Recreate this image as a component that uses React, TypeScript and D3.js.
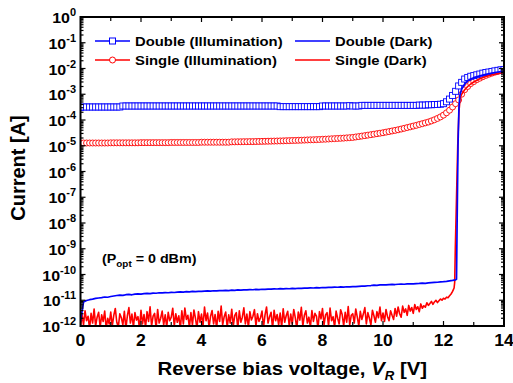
import React, { useEffect, useRef } from "react";
import * as d3 from "d3";

// sweep steps of the measurement, V
const ILLUM_STEP = 0.1;
const DARK_DOUBLE_STEP = 0.1;
const DARK_SINGLE_STEP = 0.05;

// Double (Illumination), 0 .. 14 V every 0.1 V, A
const doubleIllum = [
  3.1e-4, 3.2e-4, 3.2e-4, 3.2e-4, 3.2e-4, 3.2e-4, 3.2e-4, 3.2e-4, 3.2e-4, 3.2e-4,
  3.2e-4, 3.2e-4, 3.2e-4, 3.2e-4, 3.5e-4, 3.5e-4, 3.5e-4, 3.5e-4, 3.5e-4, 3.5e-4,
  3.5e-4, 3.5e-4, 3.5e-4, 3.5e-4, 3.5e-4, 3.5e-4, 3.5e-4, 3.5e-4, 3.5e-4, 3.5e-4,
  3.5e-4, 3.5e-4, 3.5e-4, 3.5e-4, 3.5e-4, 3.5e-4, 3.5e-4, 3.5e-4, 3.5e-4, 3.5e-4,
  3.5e-4, 3.5e-4, 3.5e-4, 3.5e-4, 3.5e-4, 3.5e-4, 3.5e-4, 3.5e-4, 3.5e-4, 3.5e-4,
  3.5e-4, 3.5e-4, 3.5e-4, 3.5e-4, 3.5e-4, 3.5e-4, 3.5e-4, 3.5e-4, 3.5e-4, 3.5e-4,
  3.5e-4, 3.5e-4, 3.5e-4, 3.5e-4, 3.5e-4, 3.5e-4, 3.3e-4, 3.3e-4, 3.3e-4, 3.3e-4,
  3.3e-4, 3.3e-4, 3.3e-4, 3.3e-4, 3.3e-4, 3.3e-4, 3.3e-4, 3.3e-4, 3.3e-4, 3.3e-4,
  3.5e-4, 3.5e-4, 3.5e-4, 3.5e-4, 3.5e-4, 3.5e-4, 3.5e-4, 3.5e-4, 3.5e-4, 3.6e-4,
  3.5e-4, 3.5e-4, 3.5e-4, 3.7e-4, 3.7e-4, 3.7e-4, 3.7e-4, 3.7e-4, 3.7e-4, 3.7e-4,
  3.7e-4, 3.7e-4, 3.7e-4, 3.7e-4, 3.7e-4, 3.7e-4, 3.7e-4, 3.7e-4, 3.7e-4, 3.7e-4,
  3.7e-4, 3.7e-4, 3.8e-4, 3.8e-4, 3.8e-4, 3.9e-4, 3.9e-4, 4.0e-4, 4.0e-4, 4.1e-4,
  4.3e-4, 5.1e-4, 6.5e-4, 9.0e-4, 1.3e-3, 2.1e-3, 2.9e-3, 3.9e-3, 4.5e-3, 5.0e-3,
  5.3e-3, 5.7e-3, 6.1e-3, 6.6e-3, 7.0e-3, 7.3e-3, 7.7e-3, 8.1e-3, 8.5e-3, 8.9e-3,
  9.2e-3,
];

// Single (Illumination), 0 .. 14 V every 0.1 V, A
const singleIllum = [
  1.28e-5, 1.28e-5, 1.28e-5, 1.28e-5, 1.28e-5, 1.28e-5, 1.28e-5, 1.28e-5, 1.28e-5, 1.28e-5,
  1.3e-5, 1.3e-5, 1.3e-5, 1.3e-5, 1.3e-5, 1.3e-5, 1.3e-5, 1.3e-5, 1.3e-5, 1.3e-5,
  1.32e-5, 1.32e-5, 1.32e-5, 1.32e-5, 1.32e-5, 1.32e-5, 1.32e-5, 1.32e-5, 1.32e-5, 1.32e-5,
  1.34e-5, 1.34e-5, 1.34e-5, 1.34e-5, 1.34e-5, 1.34e-5, 1.34e-5, 1.34e-5, 1.34e-5, 1.34e-5,
  1.37e-5, 1.37e-5, 1.37e-5, 1.37e-5, 1.37e-5, 1.37e-5, 1.37e-5, 1.37e-5, 1.37e-5, 1.37e-5,
  1.42e-5, 1.42e-5, 1.43e-5, 1.43e-5, 1.44e-5, 1.44e-5, 1.45e-5, 1.45e-5, 1.46e-5, 1.47e-5,
  1.48e-5, 1.49e-5, 1.5e-5, 1.51e-5, 1.52e-5, 1.53e-5, 1.54e-5, 1.55e-5, 1.57e-5, 1.58e-5,
  1.6e-5, 1.61e-5, 1.63e-5, 1.64e-5, 1.66e-5, 1.68e-5, 1.7e-5, 1.71e-5, 1.73e-5, 1.75e-5,
  1.78e-5, 1.8e-5, 1.83e-5, 1.86e-5, 1.89e-5, 1.92e-5, 1.95e-5, 1.98e-5, 2.02e-5, 2.06e-5,
  2.1e-5, 2.19e-5, 2.28e-5, 2.37e-5, 2.47e-5, 2.58e-5, 2.69e-5, 2.81e-5, 2.94e-5, 3.07e-5,
  3.2e-5, 3.38e-5, 3.56e-5, 3.75e-5, 3.95e-5, 4.18e-5, 4.45e-5, 4.75e-5, 5.08e-5, 5.42e-5,
  5.8e-5, 6.2e-5, 6.7e-5, 7.2e-5, 7.75e-5, 8.35e-5, 9.2e-5, 1.02e-4, 1.15e-4, 1.32e-4,
  1.55e-4, 1.9e-4, 2.4e-4, 3.2e-4, 4.3e-4, 6.0e-4, 1.0e-3, 1.5e-3, 2.0e-3, 2.6e-3,
  3.1e-3, 3.7e-3, 4.2e-3, 4.8e-3, 5.4e-3, 6.0e-3, 6.6e-3, 7.2e-3, 7.7e-3, 8.2e-3,
  8.7e-3,
];

// Double (Dark), 0 .. 12.4 V every 0.1 V, pA
const doubleDarkPA = [
  1.5, 8.5, 9.8, 10.5, 11.0, 11.8, 12.2, 12.6, 13.4, 13.1,
  14.0, 14.6, 15.3, 15.9, 15.4, 16.4, 16.8, 16.3, 17.2, 17.6,
  17.4, 18.0, 18.6, 18.1, 19.0, 18.7, 19.5, 19.2, 19.9, 19.6,
  20.3, 20.0, 20.7, 21.2, 20.8, 21.5, 21.1, 22.0, 21.6, 22.3,
  22.0, 22.6, 23.1, 22.5, 23.4, 23.0, 23.8, 23.5, 24.2, 23.8,
  24.6, 24.3, 25.1, 24.7, 25.5, 25.2, 26.0, 25.6, 26.3, 26.0,
  26.8, 26.4, 27.2, 26.9, 27.6, 27.3, 28.1, 27.7, 28.4, 28.0,
  28.9, 28.5, 29.3, 29.0, 29.8, 29.4, 30.3, 29.9, 30.8, 30.4,
  31.2, 30.9, 31.8, 31.4, 32.3, 32.0, 32.9, 32.5, 33.5, 33.1,
  34.1, 33.8, 34.8, 35.6, 35.2, 36.5, 37.3, 38.6, 38.0, 39.4,
  40.0, 39.6, 40.7, 41.2, 40.8, 41.9, 42.4, 41.9, 43.0, 43.5,
  43.1, 44.4, 45.0, 46.0, 45.5, 47.1, 48.0, 49.2, 50.1, 51.5,
  52.8, 54.5, 56.6, 58.9, 62.0,
];
// Double (Dark) breakdown and above, [V, A]
const doubleDarkTail: [number, number][] = [
  [12.43, 6.5e-11], [12.45, 1e-8], [12.48, 1e-5], [12.51, 3e-4], [12.54, 9e-4],
  [12.6, 1.6e-3], [12.7, 2.5e-3], [12.8, 3.3e-3], [12.9, 3.9e-3], [13.0, 4.4e-3],
  [13.2, 5.2e-3], [13.4, 5.9e-3], [13.6, 6.6e-3], [13.8, 7.3e-3], [14.0, 8.0e-3],
];

// Single (Dark), 0 .. 12.35 V every 0.05 V, pA
const singleDarkPA = [
  0.9, 2.8, 1.1, 3.9, 1.6, 2.4, 0.8, 3.1, 1.3, 4.6, 1.0, 2.2, 3.4, 0.9, 2.7, 1.5, 3.8, 0.8, 2.0, 1.2,
  3.5, 1.0, 2.6, 4.8, 1.4, 0.9, 3.0, 2.1, 1.1, 3.7, 0.8, 2.5, 5.2, 1.3, 2.9, 0.9, 3.3, 1.7, 2.3, 0.8,
  4.1, 1.2, 2.8, 0.9, 3.6, 1.5, 5.6, 1.0, 2.4, 3.1, 0.8, 4.4, 1.3, 2.0, 3.8, 1.1, 2.7, 0.9, 3.4, 1.6,
  2.2, 4.9, 1.0, 3.0, 1.4, 2.5, 0.8, 3.9, 1.2, 5.0, 1.8, 2.6, 0.9, 3.3, 1.1, 4.2, 2.0, 0.8, 3.6, 1.4,
  2.9, 1.0, 5.4, 1.6, 3.2, 0.9, 2.4, 4.0, 1.2, 2.8, 0.8, 3.7, 1.5, 6.0, 1.1, 2.3, 3.5, 0.9, 2.7, 1.3,
  4.5, 1.0, 2.6, 3.3, 0.8, 3.9, 1.4, 2.2, 5.1, 1.2, 2.9, 0.9, 3.6, 1.7, 2.4, 4.3, 1.0, 3.0, 1.5, 2.1,
  3.8, 0.9, 2.7, 5.5, 1.3, 2.3, 3.4, 0.8, 4.1, 1.6, 2.8, 1.1, 3.2, 0.9, 4.7, 1.4, 2.5, 3.7, 1.0, 2.9,
  1.2, 4.4, 2.1, 0.8, 3.5, 1.7, 5.3, 1.0, 2.6, 3.9, 1.3, 2.2, 0.9, 4.0, 1.5, 3.1, 2.4, 0.8, 3.6, 1.9,
  4.8, 1.1, 2.7, 3.3, 1.0, 5.0, 1.6, 2.3, 0.9, 3.8, 2.0, 1.2, 4.3, 2.8, 1.0, 3.4, 1.4, 5.7, 1.1, 2.6,
  3.0, 1.3, 4.6, 2.2, 1.0, 3.7, 1.8, 2.9, 5.2, 1.2, 3.3, 2.0, 1.1, 4.1, 2.5, 1.4, 3.6, 2.1, 5.4, 1.6,
  3.2, 1.5, 4.4, 2.3, 1.6, 3.9, 2.6, 1.8,
  4.8, 2.4, 5.5, 3.0, 2.2, 5.9, 3.4, 4.6, 2.6, 6.3, 3.8, 5.2, 3.1, 6.8, 4.4, 5.6, 3.6, 7.2, 4.9, 6.1,
  5.4, 8.0, 6.3, 7.5, 9.0, 6.9, 8.6, 10.0, 8.1, 9.6, 11.2, 10.0, 12.0, 11.1, 13.2, 12.6, 15.0, 17.5, 22.0, 30.0,
];
// Single (Dark) breakdown and above, [V, A]
const singleDarkTail: [number, number][] = [
  [12.37, 5e-11], [12.39, 1e-9], [12.43, 1e-7], [12.47, 1e-5], [12.51, 2e-4], [12.55, 7e-4],
  [12.6, 1.0e-3], [12.7, 1.5e-3], [12.8, 2.0e-3], [12.9, 2.5e-3], [13.0, 3.0e-3],
  [13.2, 4.0e-3], [13.4, 4.9e-3], [13.6, 5.7e-3], [13.8, 6.4e-3], [14.0, 7.0e-3],
];

const xTickLabels = [0, 2, 4, 6, 8, 10, 12, 14];
const yExponents = [0, -1, -2, -3, -4, -5, -6, -7, -8, -9, -10, -11, -12];

const BLUE = "#0000ff";
const RED = "#ff0000";
const FONT = "Arial, 'Liberation Sans', sans-serif";
const SX = 1.1; // the figure's text is a little wide

const App = () => {
  const width = 513;
  const height = 383;
  const marginLeft = 80.5;
  const marginRight = 9;
  const marginTop = 17;
  const marginBottom = 57;
  const svgRef = useRef<SVGSVGElement>(null);

  useEffect(() => {
    document.body.style.margin = "0";
    if (!svgRef.current) return;
    const svg = d3.select(svgRef.current);
    svg.selectAll("*").remove();

    const x = d3.scaleLinear().domain([0, 14]).range([marginLeft, width - marginRight]);
    const y = d3.scaleLog().domain([1e-12, 1]).range([height - marginBottom, marginTop]);

    const illum = (vals: number[]) => vals.map((v, i) => [i * ILLUM_STEP, v] as [number, number]);
    const dD = doubleDarkPA
      .map((v, i) => [i * DARK_DOUBLE_STEP, v * 1e-12] as [number, number])
      .concat(doubleDarkTail);
    const sD = singleDarkPA
      .map((v, i) => [i * DARK_SINGLE_STEP, v * 1e-12] as [number, number])
      .concat(singleDarkTail);

    svg
      .append("defs")
      .append("clipPath")
      .attr("id", "plot-clip")
      .append("rect")
      .attr("x", marginLeft)
      .attr("y", marginTop)
      .attr("width", width - marginLeft - marginRight)
      .attr("height", height - marginTop - marginBottom);

    const plot = svg.append("g").attr("clip-path", "url(#plot-clip)");

    // Single (Illumination) circles
    plot
      .append("g")
      .selectAll("circle")
      .data(illum(singleIllum))
      .join("circle")
      .attr("cx", (d) => x(d[0]))
      .attr("cy", (d) => y(d[1]))
      .attr("r", 3)
      .attr("fill", "white")
      .attr("stroke", RED)
      .attr("stroke-width", 0.9);

    // Double (Illumination) squares
    plot
      .append("g")
      .selectAll("rect")
      .data(illum(doubleIllum))
      .join("rect")
      .attr("x", (d) => x(d[0]) - 3)
      .attr("y", (d) => y(d[1]) - 3)
      .attr("width", 6)
      .attr("height", 6)
      .attr("fill", "white")
      .attr("stroke", BLUE)
      .attr("stroke-width", 0.9);

    const line = d3
      .line<[number, number]>()
      .x((d) => x(d[0]))
      .y((d) => y(Math.max(d[1], 1e-13)));

    plot
      .append("path")
      .datum(sD)
      .attr("fill", "none")
      .attr("stroke", RED)
      .attr("stroke-width", 1.6)
      .attr("stroke-linejoin", "round")
      .attr("d", line);

    plot
      .append("path")
      .datum(dD)
      .attr("fill", "none")
      .attr("stroke", BLUE)
      .attr("stroke-width", 1.7)
      .attr("stroke-linejoin", "round")
      .attr("d", line);

    // Ticks
    const ax = svg.append("g").attr("stroke", "black").attr("stroke-width", 1.2);
    const x0 = marginLeft;
    const x1 = width - marginRight;
    const y0 = height - marginBottom;
    const y1 = marginTop;
    for (let e = -12; e <= 0; e++) {
      const yy = y(10 ** e);
      ax.append("line").attr("x1", x0).attr("x2", x0 + 5).attr("y1", yy).attr("y2", yy);
      ax.append("line").attr("x1", x1).attr("x2", x1 - 5).attr("y1", yy).attr("y2", yy);
      if (e < 0) {
        for (let m = 2; m <= 9; m++) {
          const ym = y(m * 10 ** e);
          ax.append("line").attr("x1", x0).attr("x2", x0 + 3).attr("y1", ym).attr("y2", ym);
          ax.append("line").attr("x1", x1).attr("x2", x1 - 3).attr("y1", ym).attr("y2", ym);
        }
      }
    }
    for (let v = 1; v < 14; v++) {
      const xx = x(v);
      const len = v % 2 === 0 ? 5 : 4;
      ax.append("line").attr("x1", xx).attr("x2", xx).attr("y1", y0).attr("y2", y0 - len);
      ax.append("line").attr("x1", xx).attr("x2", xx).attr("y1", y1).attr("y2", y1 + len);
    }

    // Frame
    svg
      .append("rect")
      .attr("x", x0)
      .attr("y", y1)
      .attr("width", x1 - x0)
      .attr("height", y0 - y1)
      .attr("fill", "none")
      .attr("stroke", "black")
      .attr("stroke-width", 2);

    const label = (px: number, py: number, anchor: string, size: number) =>
      svg
        .append("text")
        .attr("transform", `translate(${px},${py}) scale(${SX},1)`)
        .attr("text-anchor", anchor)
        .attr("font-family", FONT)
        .attr("font-weight", "bold")
        .attr("font-size", size)
        .attr("fill", "black");

    // x tick labels
    xTickLabels.forEach((v) => {
      label(x(v), y0 + 20, "middle", 16).text(String(v));
    });

    // y tick labels
    yExponents.forEach((e) => {
      const t = label(76, y(10 ** e) + 6, "end", 14.5);
      t.append("tspan").text("10");
      t.append("tspan").attr("dy", -7).attr("font-size", 10).text(String(e));
    });

    // axis titles
    const xt = label((x0 + x1) / 2, 375, "middle", 18.5);
    xt.append("tspan").text("Reverse bias voltage, ");
    xt.append("tspan").attr("font-style", "italic").text("V");
    xt.append("tspan").attr("font-style", "italic").attr("font-size", 12).attr("dy", 5).text("R");
    xt.append("tspan").attr("dy", -5).text(" [V]");

    svg
      .append("text")
      .attr("transform", `translate(25,168) rotate(-90)`)
      .attr("text-anchor", "middle")
      .attr("font-family", FONT)
      .attr("font-weight", "bold")
      .attr("font-size", 20)
      .text("Current [A]");

    // annotation
    const an = label(102, 263, "start", 13);
    an.append("tspan").text("(P");
    an.append("tspan").attr("font-size", 9).attr("dy", 4).text("opt");
    an.append("tspan").attr("dy", -4).text(" = 0 dBm)");

    // legend
    const legendRows = [
      { name: "Double (Illumination)", color: BLUE, marker: "square", lx: 95, ly: 41 },
      { name: "Single (Illumination)", color: RED, marker: "circle", lx: 95, ly: 60 },
      { name: "Double (Dark)", color: BLUE, marker: "none", lx: 295, ly: 41 },
      { name: "Single (Dark)", color: RED, marker: "none", lx: 295, ly: 60 },
    ];
    legendRows.forEach((r) => {
      svg
        .append("line")
        .attr("x1", r.lx)
        .attr("x2", r.lx + 35)
        .attr("y1", r.ly)
        .attr("y2", r.ly)
        .attr("stroke", r.color)
        .attr("stroke-width", 1.5);
      if (r.marker === "square") {
        svg
          .append("rect")
          .attr("x", r.lx + 14.5)
          .attr("y", r.ly - 3)
          .attr("width", 6)
          .attr("height", 6)
          .attr("fill", "white")
          .attr("stroke", r.color)
          .attr("stroke-width", 1);
      } else if (r.marker === "circle") {
        svg
          .append("circle")
          .attr("cx", r.lx + 17.5)
          .attr("cy", r.ly)
          .attr("r", 3)
          .attr("fill", "white")
          .attr("stroke", r.color)
          .attr("stroke-width", 1);
      }
      label(r.lx + 40, r.ly + 5, "start", 13.5).text(r.name);
    });
  }, []);

  return (
    <div>
      <svg ref={svgRef} width={width} height={height} style={{ display: "block" }}></svg>
    </div>
  );
};

export default App;
